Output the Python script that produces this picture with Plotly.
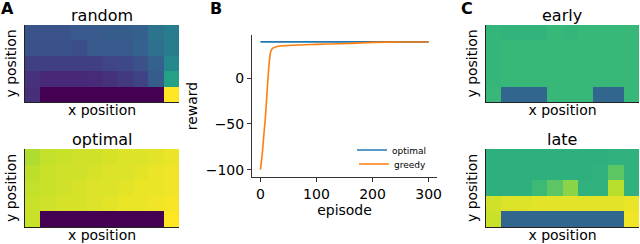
import plotly.graph_objects as go

# ---------------- data ----------------
cols = list(range(10))
rows = list(range(5))

random_vals = [
    [0.26, 0.26, 0.26, 0.28, 0.28, 0.29, 0.29, 0.30, 0.38, 0.42],
    [0.25, 0.25, 0.25, 0.24, 0.28, 0.28, 0.28, 0.31, 0.37, 0.42],
    [0.19, 0.19, 0.19, 0.19, 0.19, 0.21, 0.22, 0.25, 0.31, 0.47],
    [0.14, 0.11, 0.11, 0.11, 0.12, 0.14, 0.17, 0.20, 0.29, 0.57],
    [0.13, 0.00, 0.00, 0.00, 0.00, 0.00, 0.00, 0.00, 0.00, 1.00],
]
optimal_vals = [
    [0.88, 0.91, 0.92, 0.93, 0.93, 0.94, 0.95, 0.95, 0.96, 0.97],
    [0.90, 0.92, 0.93, 0.93, 0.94, 0.95, 0.95, 0.96, 0.97, 0.98],
    [0.91, 0.92, 0.93, 0.94, 0.95, 0.95, 0.96, 0.97, 0.97, 0.98],
    [0.92, 0.93, 0.94, 0.94, 0.95, 0.96, 0.97, 0.97, 0.98, 0.99],
    [0.92, 0.00, 0.00, 0.00, 0.00, 0.00, 0.00, 0.00, 0.00, 1.00],
]
early_vals = [
    [0.66, 0.65, 0.65, 0.65, 0.67, 0.66, 0.67, 0.67, 0.67, 0.67],
    [0.66, 0.67, 0.67, 0.67, 0.67, 0.67, 0.67, 0.67, 0.67, 0.67],
    [0.66, 0.67, 0.67, 0.67, 0.67, 0.67, 0.67, 0.67, 0.67, 0.67],
    [0.66, 0.67, 0.67, 0.67, 0.67, 0.67, 0.67, 0.67, 0.67, 0.67],
    [0.67, 0.33, 0.33, 0.33, 0.67, 0.67, 0.67, 0.33, 0.33, 0.67],
]
late_vals = [
    [0.63, 0.63, 0.63, 0.63, 0.63, 0.63, 0.63, 0.63, 0.64, 0.64],
    [0.63, 0.63, 0.63, 0.63, 0.63, 0.63, 0.63, 0.64, 0.74, 0.64],
    [0.63, 0.63, 0.63, 0.68, 0.74, 0.82, 0.64, 0.64, 0.89, 0.64],
    [0.93, 0.95, 0.95, 0.96, 0.96, 0.96, 0.96, 0.96, 0.96, 0.97],
    [0.92, 0.33, 0.33, 0.33, 0.33, 0.33, 0.33, 0.33, 0.33, 0.98],
]

episodes_optimal = [0, 300]
reward_optimal = [39.5, 39.5]

episodes_greedy = [0, 3, 6, 9, 12, 15, 18, 21, 25, 30, 40, 60, 80, 100, 140, 180, 200, 250, 300]
reward_greedy = [-100, -85, -63, -42, -14, 12, 28, 32, 33.5, 34.5, 35.2, 35.8, 36.3, 36.8, 37.4, 38.4, 39.0, 39.3, 39.3]

x_ticks = [0, 100, 200, 300]
y_ticks = [-100, -50, 0]

# ---------------- figure ----------------
W, H = 640, 244
FONT = "DejaVu Sans"

def fx(px):
    return px / W

def fy(py):
    return 1 - py / H

fig = go.Figure()

heat_specs = [
    ("random", random_vals, "x", "y"),
    ("optimal", optimal_vals, "x2", "y2"),
    ("early", early_vals, "x3", "y3"),
    ("late", late_vals, "x5", "y5"),
]
for name, z, xa, ya in heat_specs:
    fig.add_trace(go.Heatmap(
        z=z, x=cols, y=rows, colorscale="Viridis", zmin=0, zmax=1,
        showscale=False, xaxis=xa, yaxis=ya, name=name, hoverinfo="skip"))

fig.add_trace(go.Scatter(x=episodes_optimal, y=reward_optimal, mode="lines",
                         line=dict(color="#1f77b4", width=1.6), name="optimal",
                         xaxis="x4", yaxis="y4", legend="legend"))
fig.add_trace(go.Scatter(x=episodes_greedy, y=reward_greedy, mode="lines",
                         line=dict(color="#ff7f0e", width=1.6, shape="spline", smoothing=0.6),
                         name="greedy", xaxis="x4", yaxis="y4", legend="legend2"))

def heat_x(domain, anchor):
    return dict(domain=domain, anchor=anchor, range=[-0.5, 9.5], showticklabels=False,
                ticks="", showgrid=False, zeroline=False, showline=True,
                linecolor="#222", linewidth=1.2, automargin=False,
                title=dict(text="x position", standoff=3, font=dict(size=14)))

def heat_y(domain, anchor):
    return dict(domain=domain, anchor=anchor, range=[4.5, -0.5], showticklabels=False,
                ticks="", showgrid=False, zeroline=False, showline=True,
                linecolor="#222", linewidth=1.2, automargin=False,
                title=dict(text="y position", standoff=4, font=dict(size=14)))

left_dom = [fx(25), fx(179)]
right_dom = [fx(486), fx(639)]
top_dom = [fy(102), fy(25)]
bot_dom = [fy(227), fy(149)]

legend_common = dict(xanchor="right", yanchor="middle", bgcolor="rgba(0,0,0,0)",
                     font=dict(size=9), itemwidth=30, borderwidth=0)

layout = dict(
    width=W, height=H, margin=dict(l=0, r=0, t=0, b=0, autoexpand=False),
    paper_bgcolor="white", plot_bgcolor="white",
    font=dict(family=FONT, color="black", size=13),
    xaxis=heat_x(left_dom, "y"), yaxis=heat_y(top_dom, "x"),
    xaxis2=heat_x(left_dom, "y2"), yaxis2=heat_y(bot_dom, "x2"),
    xaxis3=heat_x(right_dom, "y3"), yaxis3=heat_y(top_dom, "x3"),
    xaxis5=heat_x(right_dom, "y5"), yaxis5=heat_y(bot_dom, "x5"),
    xaxis4=dict(domain=[fx(252), fx(437)], anchor="y4", range=[-15, 315],
                tickvals=x_ticks, ticks="outside", ticklen=4, tickwidth=1,
                tickcolor="#333", showline=True, linecolor="#333", linewidth=1,
                showgrid=False, zeroline=False, tickfont=dict(size=14),
                automargin=False,
                title=dict(text="episode", standoff=2, font=dict(size=14))),
    yaxis4=dict(domain=[fy(177), fy(35)], anchor="x4", range=[-108, 47],
                tickvals=y_ticks, ticks="outside", ticklen=4, tickwidth=1,
                tickcolor="#333", showline=True, linecolor="#333", linewidth=1,
                showgrid=False, zeroline=False, tickfont=dict(size=14),
                automargin=False,
                title=dict(text="reward", standoff=4, font=dict(size=14))),
    showlegend=True,
    legend=dict(x=fx(432), y=fy(150), **legend_common),
    legend2=dict(x=fx(432), y=fy(164), **legend_common),
)
fig.update_layout(**layout)

annotations = [
    dict(text="random", x=fx(102), y=fy(15)),
    dict(text="optimal", x=fx(102), y=fy(139)),
    dict(text="early", x=fx(562), y=fy(15)),
    dict(text="late", x=fx(562), y=fy(139)),
]
for a in annotations:
    fig.add_annotation(xref="paper", yref="paper", showarrow=False,
                       xanchor="center", yanchor="middle",
                       font=dict(size=16, family=FONT), **a)

for letter, px in [("A", 7), ("B", 216), ("C", 467)]:
    fig.add_annotation(text="<b>" + letter + "</b>", xref="paper", yref="paper",
                       x=fx(px), y=fy(8), showarrow=False, xanchor="center",
                       yanchor="middle", font=dict(size=16, family=FONT))

fig.write_html(
    "out.html",
    config={"displayModeBar": False},
    post_script="document.body.style.margin='0';document.body.style.overflow='hidden';",
)
